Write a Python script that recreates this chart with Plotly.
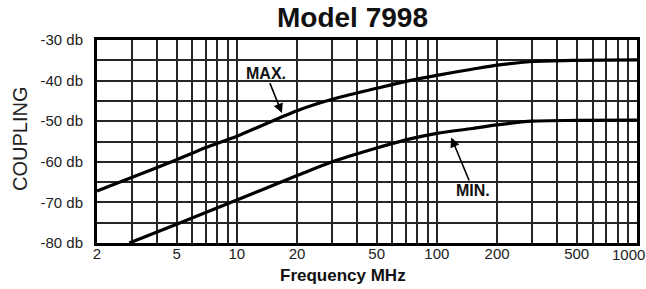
import plotly.graph_objects as go
import math

# ---- data ----
freq_max = [2, 3, 5, 7, 10, 20, 30, 50, 70, 100, 150, 200, 300, 500, 1000]
coupling_max = [-67.2, -63.8, -59.5, -56.5, -53.7, -47.4, -44.6, -41.9, -40.2, -38.7, -37.2, -36.2, -35.3, -35.0, -34.9]

freq_min = [2.9, 5, 10, 20, 30, 50, 70, 100, 150, 200, 300, 500, 1000]
coupling_min = [-80.0, -75.4, -69.4, -63.4, -60.0, -56.6, -54.6, -53.0, -51.8, -50.9, -50.0, -49.8, -49.7]

x_grid_vals = [2, 3, 4, 5, 6, 7, 8, 9, 10, 20, 30, 40, 50, 60, 70, 80, 90,
               100, 200, 300, 400, 500, 600, 700, 800, 900, 1000]
x_labels = {2: "2", 5: "5", 10: "10", 20: "20", 50: "50", 100: "100",
            200: "200", 500: "500"}
x_edge_label = "1000"
y_grid_vals = [-80, -75, -70, -65, -60, -55, -50, -45, -40, -35, -30]
y_labels = {-80: "-80 db", -70: "-70 db", -60: "-60 db", -50: "-50 db",
            -40: "-40 db", -30: "-30 db"}

fig = go.Figure()
fig.add_trace(go.Scatter(x=freq_max, y=coupling_max, mode="lines", name="MAX.",
                         line=dict(color="black", width=3.2, shape="spline", smoothing=0.8)))
fig.add_trace(go.Scatter(x=freq_min, y=coupling_min, mode="lines", name="MIN.",
                         line=dict(color="black", width=3.2, shape="spline", smoothing=0.8)))

grid_color = "#262626"
tick_font = dict(family="Liberation Sans", size=15, color="#222")
fig.update_xaxes(type="log", range=[math.log10(2), math.log10(1001)],
                 tickvals=x_grid_vals,
                 ticktext=[x_labels.get(v, "") for v in x_grid_vals],
                 showgrid=True, gridcolor=grid_color, gridwidth=1.7,
                 showline=True, linecolor="black", linewidth=3, mirror=True,
                 ticks="", ticklen=0, ticklabelstandoff=-5, automargin=False,
                 tickfont=tick_font, zeroline=False)
fig.update_yaxes(range=[-80, -30],
                 tickvals=y_grid_vals,
                 ticktext=[y_labels.get(v, "") for v in y_grid_vals],
                 showgrid=True, gridcolor=grid_color, gridwidth=1.7,
                 showline=True, linecolor="black", linewidth=3, mirror=True,
                 ticks="", ticklen=0, ticklabelstandoff=8, automargin=False,
                 tickfont=tick_font, zeroline=False)

annotations = [
    dict(text="<b>Model 7998</b>", xref="paper", yref="paper", x=(352 - 97) / 540, xanchor="center",
         y=1 + 22 / 203, yanchor="middle", showarrow=False,
         font=dict(family="Liberation Sans", size=28, color="#111")),
    dict(text="<b>Frequency MHz</b>", xref="paper", yref="paper", x=(343 - 97) / 540, xanchor="center",
         y=-(275 - 243) / 203, yanchor="middle", showarrow=False,
         font=dict(family="Liberation Sans", size=17, color="#111")),
    dict(text="COUPLING", xref="paper", yref="paper", x=-(97 - 20) / 540, xanchor="center",
         y=(243 - 139) / 203, yanchor="middle", textangle=-90, showarrow=False,
         font=dict(family="Liberation Sans", size=20, color="#222")),
    dict(text=x_edge_label, xref="paper", yref="paper", x=(628 - 97) / 540, xanchor="center",
         y=-(254 - 243) / 203, yanchor="middle", showarrow=False, font=tick_font),
    dict(text="<b>MAX.</b>", x=math.log10(16.8), y=-48.0, xref="x", yref="y",
         ax=-16, ay=-40, showarrow=True, arrowhead=2, arrowsize=1.2, arrowwidth=1.6,
         arrowcolor="black", font=dict(family="Liberation Sans", size=16, color="#111")),
    dict(text="<b>MIN.</b>", x=math.log10(118), y=-54.0, xref="x", yref="y",
         ax=22, ay=53, showarrow=True, arrowhead=2, arrowsize=1.2, arrowwidth=1.6,
         arrowcolor="black", font=dict(family="Liberation Sans", size=16, color="#111")),
]

fig.update_layout(width=646, height=289,
                  margin=dict(l=97, r=9, t=40, b=46, autoexpand=False),
                  plot_bgcolor="white", paper_bgcolor="white",
                  showlegend=False, annotations=annotations)

fig.write_html("out.html", config={"displayModeBar": False},
               post_script="document.body.style.margin='0';")
